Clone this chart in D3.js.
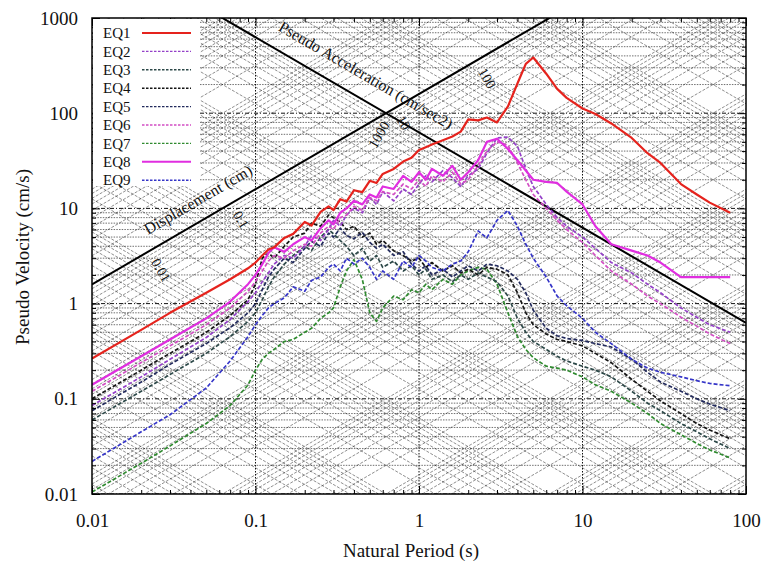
<!DOCTYPE html>
<html>
<head>
<meta charset="utf-8">
<script src="https://cdn.jsdelivr.net/npm/d3@7"></script>
<style>
  body { margin: 0; background: #fff; }
  text { font-family: "Liberation Serif", "DejaVu Serif", serif; fill: #111; }
</style>
</head>
<body>
<svg class="psv-chart"></svg>
<script>
// natural periods (s) shared by every record
var periods = [0.01, 0.02, 0.03, 0.05, 0.07, 0.09,
  0.1, 0.11, 0.12, 0.13, 0.15, 0.17,
  0.2, 0.22, 0.25, 0.28, 0.3, 0.33, 0.36,
  0.4, 0.45, 0.5, 0.55, 0.6, 0.7, 0.8, 0.9,
  1.0, 1.1, 1.2, 1.4, 1.6, 1.8,
  2.0, 2.3, 2.6, 3.0, 3.5, 4.0, 4.5,
  5, 6, 7, 8,
  10, 12, 15, 20, 25, 30,
  40, 50, 60, 80];

// pseudo velocity (cm/s)
var eq1 = [0.265, 0.53, 0.8, 1.3, 1.8, 2.35,
  2.7, 3.2, 3.7, 3.9, 4.9, 5.4,
  7.2, 6.6, 9.2, 10.5, 9.6, 12.5, 11.8,
  15.5, 14.8, 19.5, 18.5, 23, 26, 31, 34,
  41, 44, 47, 52, 57, 64,
  86, 84, 90, 80, 118, 205, 330,
  385, 260, 180, 145,
  112, 98, 78, 55, 38, 30,
  18, 14, 11.5, 9];
var eq2 = [0.085, 0.17, 0.26, 0.44, 0.68, 1.05,
  1.3, 1.7, 2.1, 2.6, 3.2, 3.0,
  4.0, 5.2, 4.6, 6.0, 7.5, 6.5, 8.5,
  10, 9, 13, 11, 15, 12, 16, 14,
  18, 22, 19, 25, 21, 17,
  22, 26, 38, 55, 56, 45, 26,
  17, 11, 8, 6.5,
  5.0, 3.8, 2.7, 2.1, 1.6, 1.3,
  0.9, 0.72, 0.6, 0.5];
var eq3 = [0.06, 0.12, 0.18, 0.3, 0.45, 0.65,
  0.8, 1.1, 1.5, 1.9, 2.6, 3.2,
  4.0, 3.6, 5.0, 6.0, 5.4, 4.6, 4.0,
  3.2, 3.8, 2.8, 3.2, 2.4, 2.8, 2.2, 2.5,
  2.0, 2.3, 1.8, 2.0, 1.7, 2.0,
  1.8, 2.1, 1.9, 1.7, 1.2, 0.7, 0.5,
  0.4, 0.33, 0.28, 0.25,
  0.22, 0.2, 0.17, 0.12, 0.09, 0.075,
  0.055, 0.045, 0.038, 0.03];
var eq4 = [0.1, 0.2, 0.3, 0.5, 0.75, 1.1,
  1.6, 3.0, 3.4, 3.0, 4.0, 5.0,
  5.5, 7.0, 6.5, 8.5, 8.0, 7.2, 6.0,
  6.5, 5.0, 5.5, 4.2, 4.6, 3.6, 3.2, 2.8,
  3.0, 2.4, 2.7, 2.2, 2.5, 2.1,
  2.3, 2.0, 2.4, 2.3, 2.0, 1.3, 0.8,
  0.6, 0.48, 0.42, 0.4,
  0.36, 0.3, 0.24, 0.16, 0.12, 0.095,
  0.07, 0.055, 0.047, 0.038];
var eq5 = [0.075, 0.15, 0.23, 0.38, 0.56, 0.8,
  1.0, 1.4, 1.9, 2.3, 3.0, 2.7,
  3.8, 4.5, 4.0, 5.5, 5.0, 6.2, 5.2,
  4.8, 5.6, 4.4, 3.8, 4.2, 3.2, 3.5, 2.6,
  2.2, 2.5, 2.0, 2.3, 1.9, 2.2,
  2.5, 2.2, 2.6, 2.5, 2.2, 1.8, 1.3,
  0.85, 0.55, 0.46, 0.43,
  0.41, 0.38, 0.35, 0.26, 0.19, 0.15,
  0.12, 0.1, 0.088, 0.075];
var eq6 = [0.12, 0.24, 0.36, 0.6, 0.9, 1.35,
  1.7, 2.2, 2.8, 3.2, 3.0, 3.6,
  4.2, 4.0, 5.5, 6.5, 6.0, 8.0, 8.5,
  10.5, 9.5, 13, 12, 15, 14, 18, 16,
  20, 17, 22, 19, 24, 18,
  20, 28, 40, 50, 46, 30, 20,
  14, 10, 7.5, 6,
  4.4, 3.2, 2.2, 1.6, 1.2, 1.0,
  0.72, 0.58, 0.48, 0.38];
var eq7 = [0.0105, 0.021, 0.032, 0.055, 0.085, 0.14,
  0.2, 0.26, 0.3, 0.33, 0.4, 0.42,
  0.5, 0.55, 0.7, 0.8, 0.9, 1.5, 2.2,
  2.9, 1.8, 0.8, 0.65, 0.9, 1.2, 1.1, 1.4,
  1.3, 1.6, 1.4, 1.8, 1.6, 2.0,
  2.2, 2.4, 2.3, 1.6, 0.8, 0.45, 0.33,
  0.27, 0.22, 0.21, 0.2,
  0.17, 0.14, 0.12, 0.09, 0.07, 0.055,
  0.042, 0.034, 0.029, 0.024];
var eq8 = [0.14, 0.28, 0.42, 0.7, 1.05, 1.6,
  2.0, 2.6, 3.4, 3.9, 3.5, 4.2,
  5.0, 4.6, 6.2, 7.5, 6.8, 9.0, 10,
  12, 11, 14, 13, 17, 16, 22, 19,
  24, 20, 26, 22, 28, 20,
  24, 32, 50, 54, 42, 32, 25,
  20, 19, 18.5, 15,
  11, 6.5, 4.2, 3.6, 3.2, 2.7,
  1.9, 1.9, 1.9, 1.9];
var eq9 = [0.022, 0.045, 0.068, 0.13, 0.25, 0.45,
  0.6, 0.75, 0.9, 1.0, 1.15, 1.5,
  1.35, 1.75, 1.9, 2.4, 2.6, 2.2, 3.0,
  2.6, 3.0, 2.4, 1.8, 2.2, 1.8, 2.8, 2.4,
  3.2, 2.8, 2.4, 2.2, 2.6, 2.8,
  3.5, 5.8, 4.9, 7.5, 9.5, 6.5, 4.2,
  3.0, 1.9, 1.2, 0.95,
  0.7, 0.5, 0.38, 0.26, 0.21, 0.19,
  0.17, 0.155, 0.145, 0.137];

var seriesNames = ["EQ1", "EQ2", "EQ3", "EQ4", "EQ5", "EQ6", "EQ7", "EQ8", "EQ9"];
var seriesValues = [eq1, eq2, eq3, eq4, eq5, eq6, eq7, eq8, eq9];
var seriesColors = ["#e5231d", "#9440c8", "#2c4848", "#151515", "#222a5c", "#d24ec4", "#2f8a2f", "#e02ee0", "#3535c8"];
var seriesDash = [null, "4,2", "4,2", "4,2", "4,2", "4,2", "4,2", null, "4,2"];

var xTicks = [0.01, 0.1, 1, 10, 100];
var yTicks = [0.01, 0.1, 1, 10, 100, 1000];

// heavy reference lines: constant acceleration (cm/s2) and constant displacement (cm)
var refAccel = 1000;
var refDisp = 10;
// value labels of the displacement family along the heavy acceleration line
var dispLabels = ["0.01", "0.1", "10", "100"];

var margin = {top: 18, right: 22, bottom: 78, left: 92};
var width = 768 - margin.left - margin.right;
var height = 572 - margin.top - margin.bottom;
var TWO_PI = 2 * Math.PI;

var x = d3.scaleLog().domain([0.01, 100]).range([0, width]);
var y = d3.scaleLog().domain([0.01, 1000]).range([height, 0]);

var svg = d3.select(".psv-chart")
  .attr("width", 768)
  .attr("height", 572);

var chart = svg.append("g")
  .attr("transform", "translate(" + margin.left + "," + margin.top + ")");

chart.append("clipPath").attr("id", "plot-clip")
  .append("rect").attr("width", width).attr("height", height);

var grid = chart.append("g").attr("clip-path", "url(#plot-clip)");

// minor values 1..9 per decade, used for the grid
function decadeSteps(lo, hi) {
  var out = [];
  for (var e = lo; e <= hi; e++) {
    for (var k = 1; k <= 9; k++) out.push(k * Math.pow(10, e));
  }
  return out;
}
function isDecade(v) {
  return Math.abs(Math.log10(v) % 1) < 1e-9;
}

// horizontal velocity grid
var vGrid = decadeSteps(-2, 2);
grid.selectAll(".hgrid")
  .data(vGrid)
  .enter().append("line")
  .attr("x1", 0).attr("x2", width)
  .attr("y1", function(d) { return y(d); })
  .attr("y2", function(d) { return y(d); })
  .attr("stroke", function(d) { return isDecade(d) ? "#111" : "#333"; })
  .attr("stroke-width", function(d) { return isDecade(d) ? 1 : 0.7; })
  .attr("stroke-dasharray", function(d) { return isDecade(d) ? "4,2,1,2" : "1.5,1.2"; });

// vertical grid at decades only
grid.selectAll(".vgrid")
  .data([0.1, 1, 10])
  .enter().append("line")
  .attr("y1", 0).attr("y2", height)
  .attr("x1", function(d) { return x(d); })
  .attr("x2", function(d) { return x(d); })
  .attr("stroke", "#111")
  .attr("stroke-width", 1)
  .attr("stroke-dasharray", "1.5,1.5");

// displacement family: V = 2*pi*D/T
var dGrid = decadeSteps(-5, 4);
grid.selectAll(".dgrid")
  .data(dGrid)
  .enter().append("line")
  .attr("x1", x(0.01)).attr("x2", x(100))
  .attr("y1", function(d) { return y(TWO_PI * d / 0.01); })
  .attr("y2", function(d) { return y(TWO_PI * d / 100); })
  .attr("stroke", "#222")
  .attr("stroke-width", 0.6)
  .attr("stroke-opacity", 0.85)
  .attr("stroke-dasharray", "3,1.5");

// acceleration family: V = A*T/(2*pi)
var aGrid = decadeSteps(-4, 5);
grid.selectAll(".agrid")
  .data(aGrid)
  .enter().append("line")
  .attr("x1", x(0.01)).attr("x2", x(100))
  .attr("y1", function(d) { return y(d * 0.01 / TWO_PI); })
  .attr("y2", function(d) { return y(d * 100 / TWO_PI); })
  .attr("stroke", "#222")
  .attr("stroke-width", 0.6)
  .attr("stroke-opacity", 0.85)
  .attr("stroke-dasharray", "3,1.5");

// heavy reference lines
grid.append("line")
  .attr("x1", x(0.01)).attr("x2", x(100))
  .attr("y1", y(refAccel * 0.01 / TWO_PI))
  .attr("y2", y(refAccel * 100 / TWO_PI))
  .attr("stroke", "#000").attr("stroke-width", 2);
grid.append("line")
  .attr("x1", x(0.01)).attr("x2", x(100))
  .attr("y1", y(TWO_PI * refDisp / 0.01))
  .attr("y2", y(TWO_PI * refDisp / 100))
  .attr("stroke", "#000").attr("stroke-width", 2);

// angle of the diagonals on screen
var ang = Math.atan((y(1) - y(10)) / (x(10) - x(1))) * 180 / Math.PI;

// family labels
chart.append("text")
  .attr("transform", "translate(" + (284 - margin.left) + "," + (19 - margin.top) + ") rotate(" + ang + ")")
  .attr("dy", "0.8em")
  .style("font-size", "16px")
  .text("Pseudo Acceleration (cm/sec2)");
chart.append("text")
  .attr("transform", "translate(" + (148 - margin.left) + "," + (235 - margin.top) + ") rotate(" + (-ang) + ")")
  .style("font-size", "16px")
  .text("Displacement (cm)");

// displacement values where the D lines cross the heavy acceleration line
chart.selectAll(".dlabel")
  .data(dispLabels)
  .enter().append("text")
  .attr("transform", function(d) {
    var D = +d;
    var T = TWO_PI * Math.sqrt(D / refAccel);
    var px = x(T) + 10, py = y(TWO_PI * D / T) + 6;
    return "translate(" + px + "," + py + ") rotate(" + (90 - ang) + ")";
  })
  .style("font-size", "14px")
  .text(function(d) { return d; });

// acceleration value on the heavy displacement line
chart.append("text")
  .attr("transform", function() {
    var T = TWO_PI * Math.sqrt(refDisp / refAccel);
    return "translate(" + (x(T) - 10) + "," + (y(TWO_PI * refDisp / T) + 36) + ") rotate(" + (ang - 90) + ")";
  })
  .style("font-size", "14px")
  .text(String(refAccel));

// spectra
var line = d3.line()
  .x(function(d, i) { return x(periods[i]); })
  .y(function(d) { return y(d); });

var order = [6, 2, 3, 4, 8, 1, 5, 7, 0];
var curves = chart.append("g").attr("clip-path", "url(#plot-clip)");
order.forEach(function(s) {
  curves.append("path")
    .datum(seriesValues[s])
    .attr("fill", "none")
    .attr("stroke", seriesColors[s])
    .attr("stroke-width", seriesDash[s] ? 1.7 : 2.2)
    .attr("stroke-dasharray", seriesDash[s])
    .attr("stroke-linejoin", "round")
    .attr("d", line);
});

// axes with inward ticks
function minorTicks(lo, hi) {
  return decadeSteps(lo, hi).filter(function(v) { return !isDecade(v); });
}
var xMinor = minorTicks(-2, 1);
var yMinor = minorTicks(-2, 2);
var fmt = d3.format("~g");

chart.append("g").attr("class", "axis")
  .attr("transform", "translate(0," + height + ")")
  .call(d3.axisBottom(x).tickValues(xTicks).tickFormat(fmt).tickSizeInner(-8).tickSizeOuter(0).tickPadding(20));
chart.append("g").attr("transform", "translate(0," + height + ")")
  .call(d3.axisBottom(x).tickValues(xMinor).tickFormat("").tickSizeInner(-4).tickSizeOuter(0));
chart.append("g")
  .call(d3.axisTop(x).tickValues(xTicks).tickFormat("").tickSizeInner(-8).tickSizeOuter(0));
chart.append("g")
  .call(d3.axisTop(x).tickValues(xMinor).tickFormat("").tickSizeInner(-4).tickSizeOuter(0));

chart.append("g").attr("class", "axis")
  .call(d3.axisLeft(y).tickValues(yTicks).tickFormat(fmt).tickSizeInner(-8).tickSizeOuter(0).tickPadding(14));
chart.append("g")
  .call(d3.axisLeft(y).tickValues(yMinor).tickFormat("").tickSizeInner(-4).tickSizeOuter(0));
chart.append("g").attr("transform", "translate(" + width + ",0)")
  .call(d3.axisRight(y).tickValues(yTicks).tickFormat("").tickSizeInner(-8).tickSizeOuter(0));
chart.append("g").attr("transform", "translate(" + width + ",0)")
  .call(d3.axisRight(y).tickValues(yMinor).tickFormat("").tickSizeInner(-4).tickSizeOuter(0));

chart.selectAll(".domain").remove();
chart.selectAll(".tick line").attr("stroke", "#000").attr("stroke-width", 1);
chart.selectAll(".axis text")
  .style("font-family", "'Liberation Serif', serif")
  .style("font-size", "19px")
  .attr("fill", "#111");

// legend
var legend = chart.append("g").attr("transform", "translate(1,1)");
legend.append("rect")
  .attr("width", 107).attr("height", 167)
  .attr("fill", "#fff");
seriesNames.forEach(function(name, i) {
  var ly = 14 + i * 18.4;
  legend.append("text")
    .attr("x", 10).attr("y", ly)
    .attr("dy", "0.35em")
    .style("font-size", "15px")
    .text(name);
  legend.append("line")
    .attr("x1", 49).attr("x2", 98)
    .attr("y1", ly).attr("y2", ly)
    .attr("stroke", seriesColors[i])
    .attr("stroke-width", seriesDash[i] ? 1.4 : 2)
    .attr("stroke-dasharray", seriesDash[i] ? "2.5,1.5" : null);
});

// frame
chart.append("rect")
  .attr("width", width).attr("height", height)
  .attr("fill", "none").attr("stroke", "#000").attr("stroke-width", 1.5);

// axis titles
chart.append("text")
  .attr("class", "axis-label")
  .attr("x", width / 2 - 8)
  .attr("y", height + 63)
  .attr("text-anchor", "middle")
  .style("font-size", "19px")
  .text("Natural Period (s)");

chart.append("text")
  .attr("class", "axis-label")
  .attr("transform", "rotate(-90)")
  .attr("x", 0 - (height / 2) - 1)
  .attr("y", 0 - margin.left + 29)
  .attr("text-anchor", "middle")
  .style("font-size", "19px")
  .text("Pseudo Velocity (cm/s)");
</script>
</body>
</html>
